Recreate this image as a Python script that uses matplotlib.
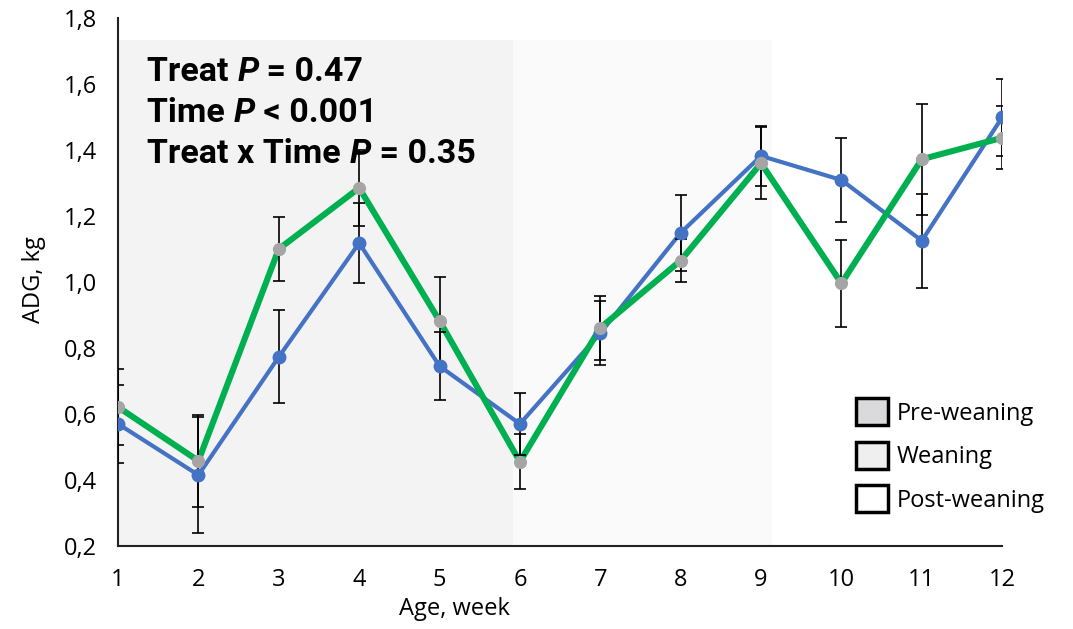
import matplotlib
matplotlib.use("Agg")
import matplotlib.pyplot as plt
from matplotlib.patches import Patch
from matplotlib.offsetbox import TextArea, HPacker, VPacker, AnchoredOffsetbox

weeks = [1, 2, 3, 4, 5, 6, 7, 8, 9, 10, 11, 12]
blue_vals = [0.570, 0.415, 0.773, 1.118, 0.745, 0.570, 0.845, 1.149, 1.382, 1.309, 1.125, 1.499]
blue_err = [0.118, 0.176, 0.141, 0.121, 0.102, 0.094, 0.097, 0.115, 0.092, 0.128, 0.142, 0.117]
green_vals = [0.621, 0.458, 1.100, 1.285, 0.882, 0.455, 0.861, 1.065, 1.360, 0.996, 1.372, 1.437]
green_err = [0.115, 0.139, 0.097, 0.115, 0.133, 0.083, 0.097, 0.065, 0.109, 0.132, 0.168, 0.095]
y_ticks = [0.2, 0.4, 0.6, 0.8, 1.0, 1.2, 1.4, 1.6, 1.8]
y_tick_labels = ["0,2", "0,4", "0,6", "0,8", "1,0", "1,2", "1,4", "1,6", "1,8"]
phase_names = ["Pre-weaning", "Weaning", "Post-weaning"]
phase_spans = [(1.0, 5.91), (5.91, 9.14)]

plt.rcParams['font.family'] = ['Open Sans', 'DejaVu Sans']

fig = plt.figure(figsize=(10.73, 6.29), dpi=100)
ax = fig.add_axes([0.110, 0.132, 0.824, 0.8394])

shade_top = (1.733 - 0.2) / 1.6
ax.axvspan(*phase_spans[0], ymin=0, ymax=shade_top, color="#f3f3f3", lw=0, zorder=0)
ax.axvspan(*phase_spans[1], ymin=0, ymax=shade_top, color="#fafafa", lw=0, zorder=0)

ax.plot(weeks, blue_vals, color="#4472C4", lw=3.0, zorder=2)
ax.plot(weeks, green_vals, color="#00B050", lw=4.4, zorder=2.5)
ax.errorbar(weeks, blue_vals, yerr=blue_err, fmt="none", ecolor="black",
            elinewidth=1.2, capsize=4.5, capthick=1.2, zorder=3)
ax.errorbar(weeks, green_vals, yerr=green_err, fmt="none", ecolor="black",
            elinewidth=1.2, capsize=4.5, capthick=1.2, zorder=3)
ax.plot(weeks, blue_vals, ls="none", marker="o", ms=9, color="#4472C4", zorder=4)
ax.plot(weeks, green_vals, ls="none", marker="o", ms=8.5, color="#A5A5A5", zorder=4.5)

ax.set_xlim(1, 12)
ax.set_ylim(0.2, 1.8)
ax.set_xticks(weeks)
ax.set_xticklabels([str(w) for w in weeks])
ax.set_yticks(y_ticks)
ax.set_yticklabels(y_tick_labels)
ax.tick_params(axis="both", length=0, labelsize=17, colors="black")
ax.tick_params(axis="x", pad=16)
ax.tick_params(axis="y", pad=15)
for s in ["top", "right"]:
    ax.spines[s].set_visible(False)
for s in ["left", "bottom"]:
    ax.spines[s].set_color("#222222")
    ax.spines[s].set_linewidth(1.5)
ax.set_facecolor("white")

ax.set_xlabel("Age, week", fontsize=17)
ax.xaxis.set_label_coords(0.381, -0.097)
ax.set_ylabel("ADG, kg", fontsize=17)
ax.yaxis.set_label_coords(-0.082, 0.505)

# stats text
bold = dict(fontfamily="Roboto", fontweight="bold", fontsize=24.5, color="black")
bolditalic = dict(fontfamily="Roboto", fontweight="bold", fontstyle="italic", fontsize=24.5, color="black")
lines = [("Treat ", " = 0.47"), ("Time ", " < 0.001"), ("Treat x Time ", " = 0.35")]
rows = []
for pre, post in lines:
    rows.append(HPacker(children=[TextArea(pre, textprops=bold),
                                  TextArea("P", textprops=bolditalic),
                                  TextArea(post, textprops=bold)],
                        align="baseline", pad=0, sep=0))
vp = VPacker(children=rows, align="left", pad=0, sep=6.5)
ab = AnchoredOffsetbox(loc="upper left", child=vp, frameon=False, pad=0,
                       bbox_to_anchor=(0.033, 0.928), bbox_transform=ax.transAxes, borderpad=0)
ab.set_zorder(6)
ax.add_artist(ab)

handles = [Patch(facecolor=c, edgecolor="black", linewidth=2.5)
           for c in ["#dadadd", "#efefef", "#ffffff"]]
leg = ax.legend(handles, phase_names, loc="upper left", bbox_to_anchor=(0.835, 0.28),
                frameon=False, fontsize=17, handlelength=1.35, handleheight=1.4,
                handletextpad=0.35, labelspacing=0.68, borderpad=0, borderaxespad=0)

fig.savefig("out.png", dpi=100)
